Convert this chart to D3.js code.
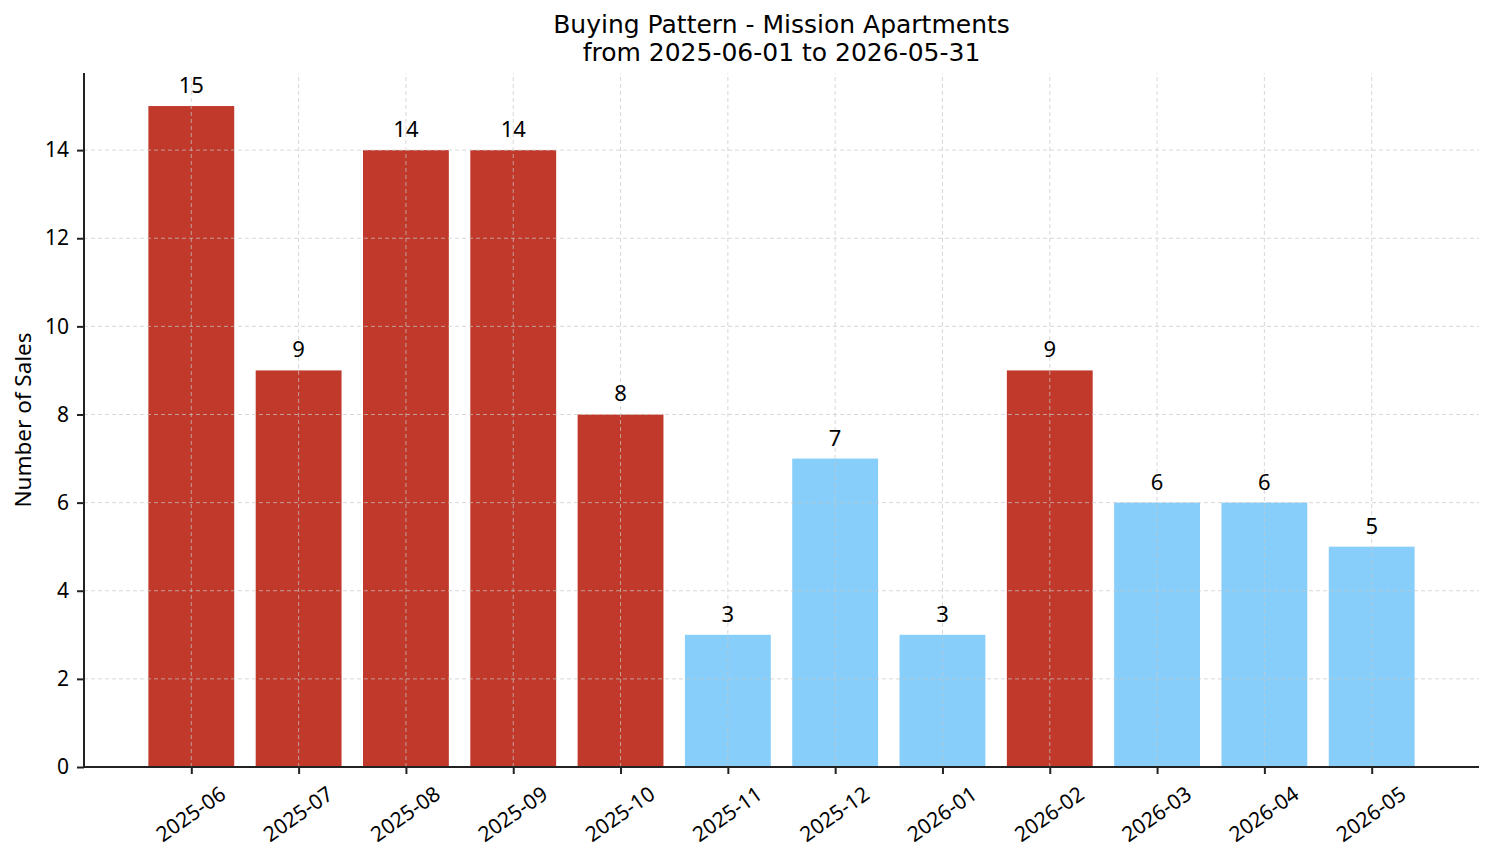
<!DOCTYPE html>
<html>
<head>
<meta charset="utf-8">
<script src="https://cdn.jsdelivr.net/npm/d3@7"></script>
<style>
  html, body { margin: 0; padding: 0; background: #fff; }
  svg { display: block; font-family: "Noto Sans", sans-serif; }
</style>
</head>
<body>
<svg id="chart" width="1494" height="863"></svg>
<script>
const months = ["2025-06","2025-07","2025-08","2025-09","2025-10","2025-11","2025-12","2026-01","2026-02","2026-03","2026-04","2026-05"];
const sales = [15, 9, 14, 14, 8, 3, 7, 3, 9, 6, 6, 5];
const highlight = [true, true, true, true, true, false, false, false, true, false, false, false];
const yTicks = [0, 2, 4, 6, 8, 10, 12, 14];
const titleLines = ["Buying Pattern - Mission Apartments", "from 2025-06-01 to 2026-05-31"];
const yLabel = "Number of Sales";

const svg = d3.select("#chart");
const W = 1494, H = 863;
const m = {left: 84, right: W - 1479, top: 73, bottom: H - 767};
const x = d3.scaleLinear().domain([-1, 12]).range([m.left, W - m.right]);
const y = d3.scaleLinear().domain([0, 15.75]).range([H - m.bottom, m.top]);
const barW = x(0.8) - x(0);

const red = "#c0392b", blue = "#87cefa";
const tickFont = "Noto Sans";

// bars
svg.append("g").selectAll("rect").data(sales).join("rect")
  .attr("x", (d, i) => x(i) - barW / 2)
  .attr("width", barW)
  .attr("y", d => y(d))
  .attr("height", d => y(0) - y(d))
  .attr("fill", (d, i) => highlight[i] ? red : blue);

// grid (drawn above bars, faint)
const grid = svg.append("g").attr("stroke", "#c8c8c8").attr("stroke-opacity", 0.7)
  .attr("stroke-width", 1).attr("stroke-dasharray", "4,3");
grid.selectAll(".gy").data(yTicks).join("line")
  .attr("x1", x(-1)).attr("x2", x(12)).attr("y1", d => y(d)).attr("y2", d => y(d));
grid.selectAll(".gx").data(months).join("line")
  .attr("x1", (d, i) => x(i)).attr("x2", (d, i) => x(i)).attr("y1", y(0)).attr("y2", m.top);

// value labels
svg.append("g").selectAll("text").data(sales).join("text")
  .attr("x", (d, i) => x(i))
  .attr("y", d => y(d) - 13)
  .attr("text-anchor", "middle")
  .attr("font-family", tickFont)
  .attr("font-size", 22)
  .attr("fill", "#000")
  .text(d => d);

// axes
const yAxis = svg.append("g").attr("transform", `translate(${m.left},0)`)
  .call(d3.axisLeft(y).tickValues(yTicks).tickSize(7).tickPadding(8));
const xAxis = svg.append("g").attr("transform", `translate(0,${H - m.bottom})`)
  .call(d3.axisBottom(x).tickValues(d3.range(months.length)).tickFormat(i => months[i]).tickSize(7).tickPadding(4));

[xAxis, yAxis].forEach(g => {
  g.select(".domain").attr("stroke", "#222").attr("stroke-width", 2);
  g.selectAll(".tick line").attr("stroke", "#222").attr("stroke-width", 2);
  g.selectAll("text").attr("font-size", 21).attr("fill", "#000").attr("font-family", tickFont);
});
xAxis.select(".domain").attr("d", `M${x(-1)},0H${x(12)}`);
yAxis.select(".domain").attr("d", `M0,${y(0)}V${m.top}`);

xAxis.selectAll(".tick text")
  .attr("text-anchor", "middle")
  .attr("y", 0)
  .attr("dy", "0.35em")
  .attr("transform", "translate(-1,47) rotate(-35)");

// y label
svg.append("text")
  .attr("transform", `translate(23,${(m.top + H - m.bottom) / 2}) rotate(-90)`)
  .attr("text-anchor", "middle")
  .attr("dy", "0.35em")
  .attr("font-family", tickFont)
  .attr("font-size", 22.5)
  .text(yLabel);

// title
svg.append("g").selectAll("text").data(titleLines).join("text")
  .attr("x", (m.left + W - m.right) / 2)
  .attr("y", (d, i) => 33 + i * 28)
  .attr("text-anchor", "middle")
  .attr("font-family", "DejaVu Sans")
  .attr("font-size", 25)
  .text(d => d);
</script>
</body>
</html>
